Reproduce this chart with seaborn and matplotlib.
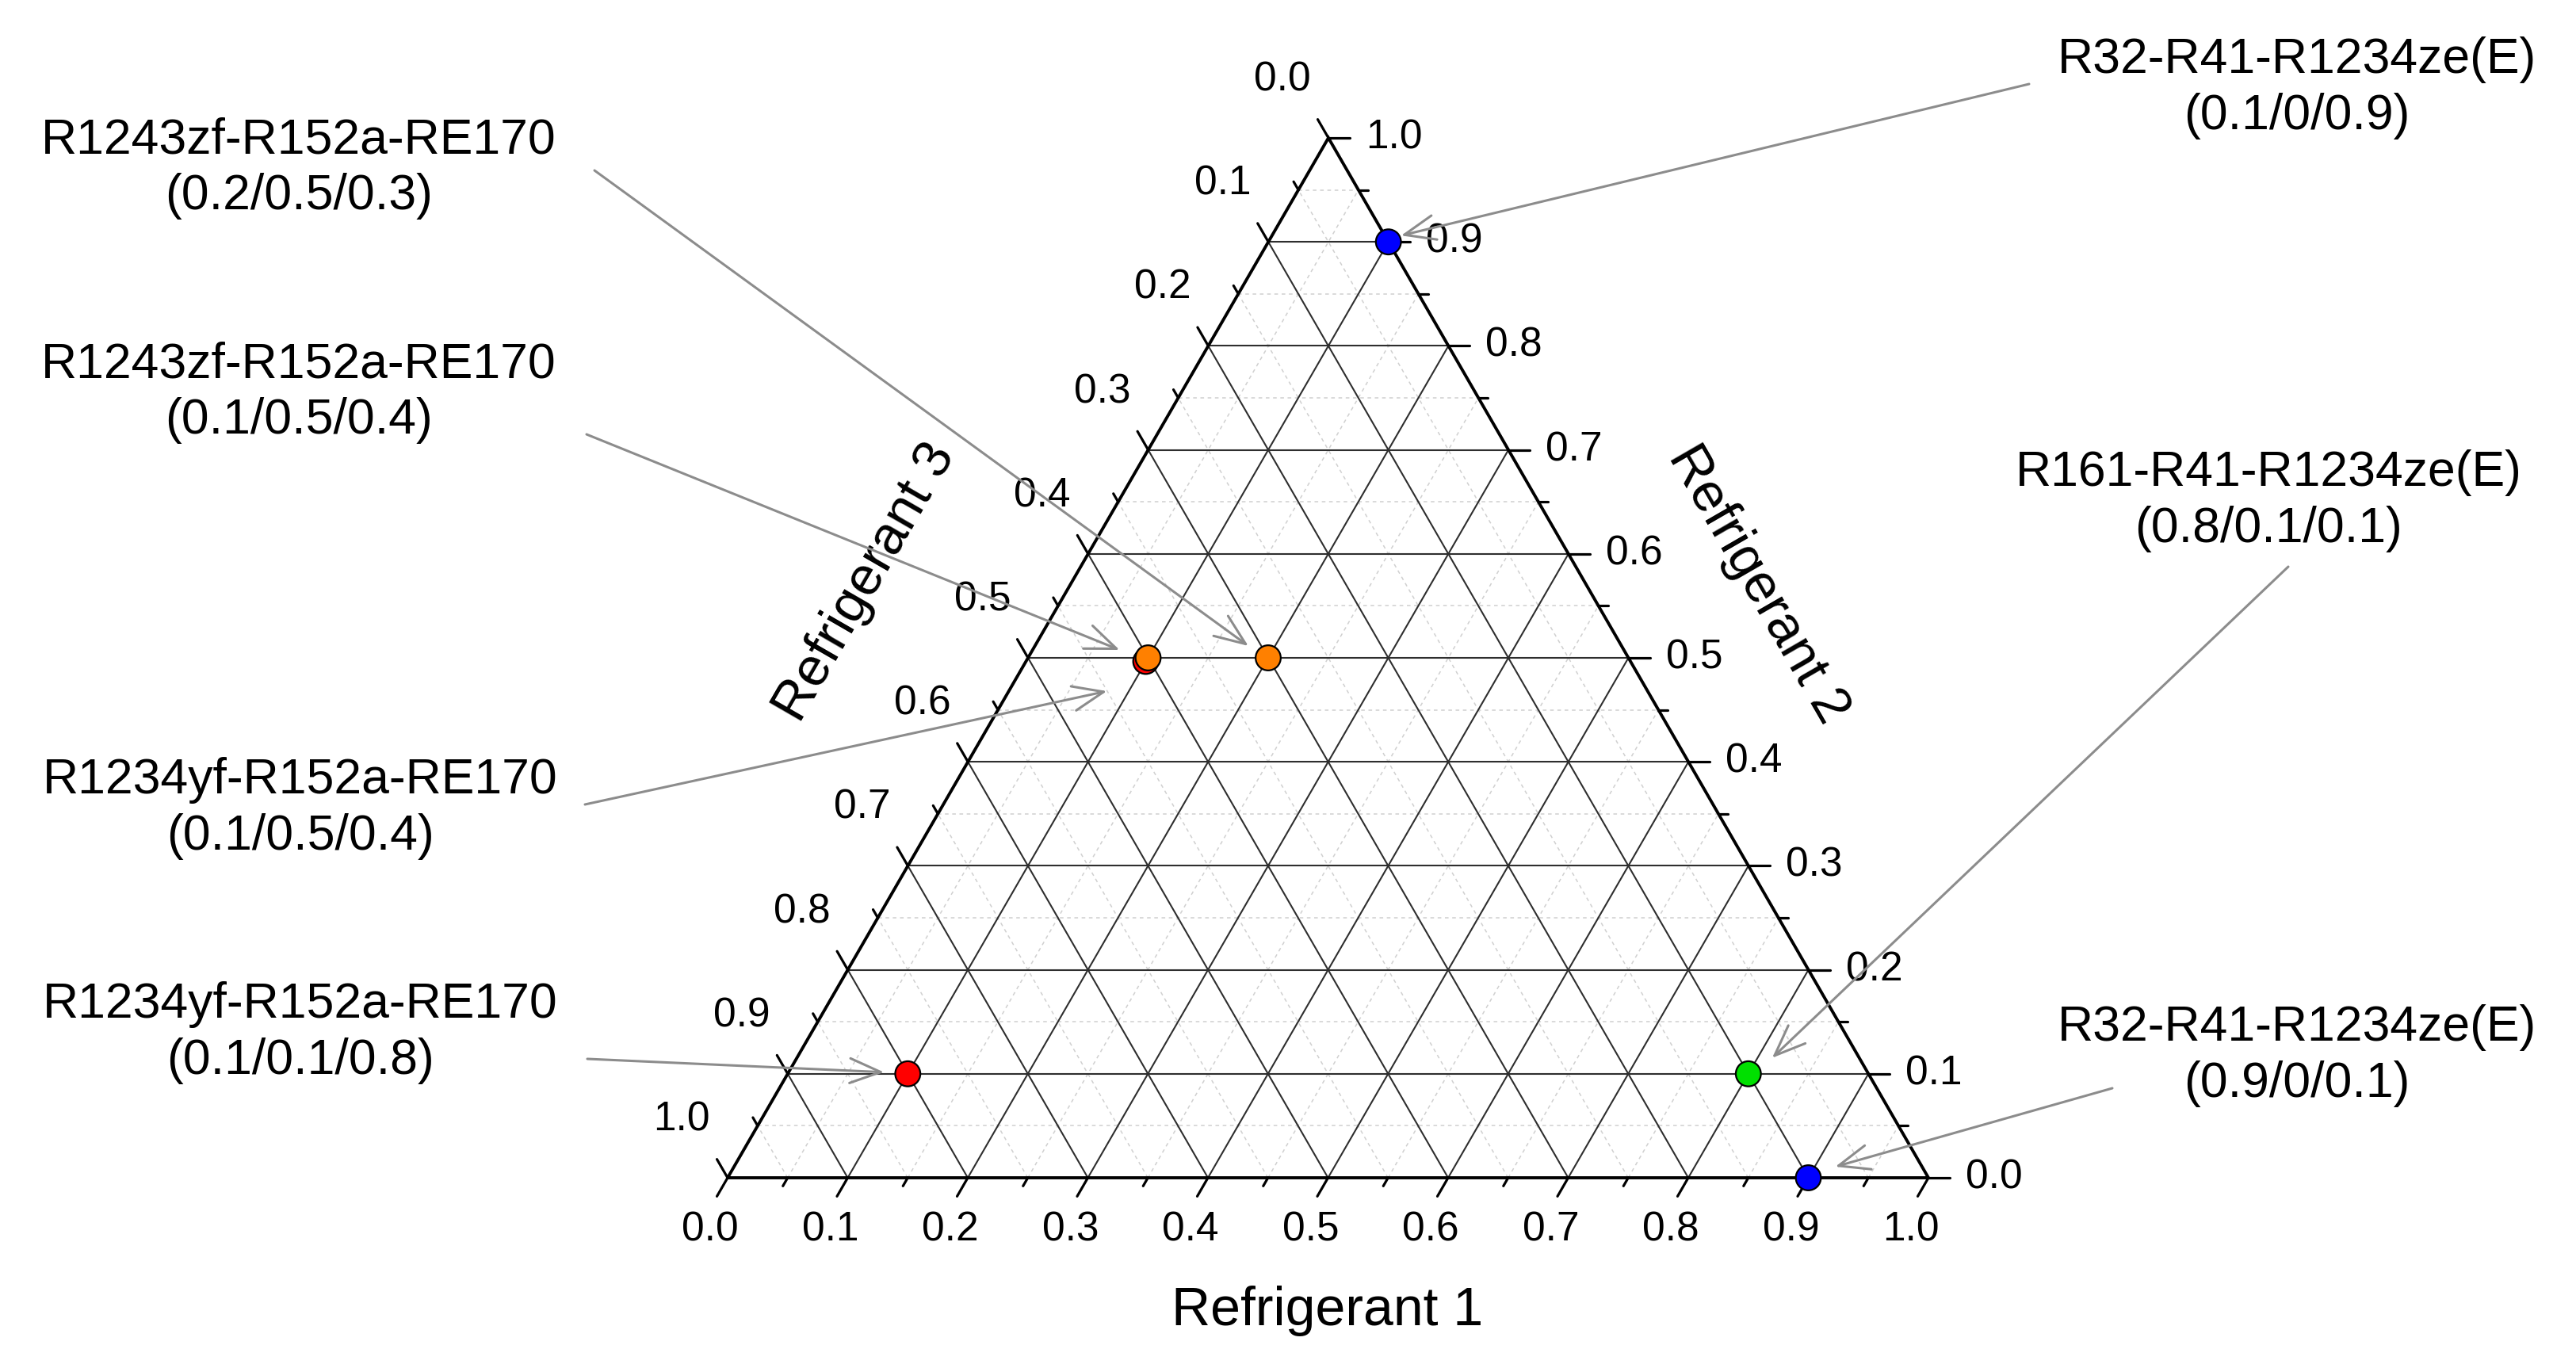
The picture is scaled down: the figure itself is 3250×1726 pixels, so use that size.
"""Ternary composition diagram of refrigerant blends."""

import matplotlib.pyplot as plt
import matplotlib.transforms as mtransforms
import numpy as np
import pandas as pd
import seaborn as sns

# blend data
blend_names = [
    "R1234yf-R152a-RE170",
    "R1243zf-R152a-RE170",
    "R1243zf-R152a-RE170",
    "R1234yf-R152a-RE170",
    "R32-R41-R1234ze(E)",
    "R161-R41-R1234ze(E)",
    "R32-R41-R1234ze(E)",
]
blend_labels = [
    "(0.1/0.5/0.4)",
    "(0.1/0.5/0.4)",
    "(0.2/0.5/0.3)",
    "(0.1/0.1/0.8)",
    "(0.1/0/0.9)",
    "(0.8/0.1/0.1)",
    "(0.9/0/0.1)",
]
refrigerant_1 = [0.1, 0.1, 0.2, 0.1, 0.1, 0.8, 0.9]
refrigerant_2 = [0.5, 0.5, 0.5, 0.1, 0.9, 0.1, 0.0]
refrigerant_3 = [0.4, 0.4, 0.3, 0.8, 0.0, 0.1, 0.1]
marker_colours = ["red", "orange", "orange", "red", "blue", "green", "blue"]

tick_values = np.round(np.arange(0, 1.01, 0.1), 2)
tick_labels = [f"{v:.1f}" for v in tick_values]
axis_titles = ["Refrigerant 1", "Refrigerant 2", "Refrigerant 3"]

# layout (pixels)
W, H = 3250, 1726
BL = np.array([918.0, 1486.0])
BR = np.array([2433.0, 1486.0])
APEX = np.array([1676.0, 174.0])

palette = {"red": "#ff0000", "orange": "#ff8000", "green": "#00e000", "blue": "#0000ff"}


def tern(r1, r2, r3):
    r1, r2, r3 = np.asarray(r1), np.asarray(r2), np.asarray(r3)
    x = r1 * BR[0] + r2 * APEX[0] + r3 * BL[0]
    y = r1 * BR[1] + r2 * APEX[1] + r3 * BL[1]
    return x, y


sns.set_theme(style="white")
plt.rcParams["font.family"] = ["Liberation Sans", "DejaVu Sans"]
plt.rcParams["text.color"] = "black"

fig = plt.figure(figsize=(W / 100, H / 100), dpi=100)
ax = fig.add_axes([0, 0, 1, 1])
ax.set_xlim(0, W)
ax.set_ylim(H, 0)
ax.axis("off")

# grid lines
for v in np.round(np.arange(0.05, 1.0, 0.05), 2):
    major = abs(round(v * 10) - v * 10) < 1e-6
    style = dict(color="#2e2e2e", lw=1.5, zorder=2) if major else \
        dict(color="#d0d0d0", lw=1.1, ls=(0, (3, 3)), zorder=1)
    segs = [
        ((0, v, 1 - v), (1 - v, v, 0)),   # constant refrigerant 2
        ((v, 0, 1 - v), (v, 1 - v, 0)),   # constant refrigerant 1
        ((1 - v, 0, v), (0, 1 - v, v)),   # constant refrigerant 3
    ]
    for a, b in segs:
        xa, ya = tern(*a)
        xb, yb = tern(*b)
        ax.plot([xa, xb], [ya, yb], **style)

# triangle frame
frame = np.array([BL, BR, APEX, BL])
ax.plot(frame[:, 0], frame[:, 1], color="black", lw=2.8, zorder=3, solid_joinstyle="miter")

# ticks and tick labels
c60, s60 = 0.5, np.sqrt(3) / 2
for v in np.round(np.arange(0, 1.0001, 0.05), 2):
    major = abs(round(v * 10) - v * 10) < 1e-6
    length = 27 if major else 12
    # bottom axis (refrigerant 1)
    x0, y0 = tern(v, 0, 1 - v)
    ax.plot([x0, x0 - c60 * length], [y0, y0 + s60 * length], color="black", lw=2.3, zorder=3)
    # right axis (refrigerant 2)
    x1, y1 = tern(1 - v, v, 0)
    ax.plot([x1, x1 + length], [y1, y1], color="black", lw=2.3, zorder=3)
    # left axis (refrigerant 3)
    x2, y2 = tern(0, 1 - v, v)
    ax.plot([x2, x2 - c60 * length], [y2, y2 - s60 * length], color="black", lw=2.3, zorder=3)

for v, lab in zip(tick_values, tick_labels):
    x0, y0 = tern(v, 0, 1 - v)
    ax.text(x0 - 22, y0 + 66, lab, fontsize=37, ha="center", va="center")
    x1, y1 = tern(1 - v, v, 0)
    ax.text(x1 + 47, y1, lab, fontsize=37, ha="left", va="center")
    x2, y2 = tern(0, 1 - v, v)
    ax.text(x2 - 22, y2 - 73, lab, fontsize=37, ha="right", va="center")

ax.text(1675, 1654, axis_titles[0], fontsize=49, ha="center", va="center")
ax.text(2218, 737, axis_titles[1], fontsize=49, ha="center", va="center", rotation=-60,
        rotation_mode="anchor")
ax.text(1092, 735, axis_titles[2], fontsize=49, ha="center", va="center", rotation=60,
        rotation_mode="anchor")

# data points
df = pd.DataFrame({
    "name": blend_names,
    "label": blend_labels,
    "r1": refrigerant_1,
    "r2": refrigerant_2,
    "r3": refrigerant_3,
    "colour": marker_colours,
})
df["x"], df["y"] = tern(df["r1"], df["r2"], df["r3"])

# the first blend sits under the orange one, drawn a touch lower-left as in the source
sns.scatterplot(data=df.iloc[:1], x="x", y="y", hue="colour", palette=palette, s=520,
                edgecolor="black", linewidth=1.6, legend=False, ax=ax, zorder=5)
nudge = mtransforms.ScaledTranslation(-4 / 100, -4 / 100, fig.dpi_scale_trans)
ax.collections[-1].set_offset_transform(ax.transData + nudge)
sns.scatterplot(data=df.iloc[1:], x="x", y="y", hue="colour", palette=palette, s=520,
                edgecolor="black", linewidth=1.6, legend=False, ax=ax, zorder=6)
ax.set_xlabel("")
ax.set_ylabel("")

# annotations: text centre, arrow start, arrow tip offset from the marker
notes = [
    (0, (379, 1020), (738, 1015), (-52, 42)),
    (1, (377, 495), (740, 548), (-36, -10)),
    (2, (377, 212), (750, 215), (-25, -15)),
    (3, (379, 1303), (741, 1336), (-30, -2)),
    (4, (2898, 111), (2560, 106), (16, -8)),
    (5, (2862, 632), (2887, 715), (30, -20)),
    (6, (2898, 1332), (2665, 1373), (34, -14)),
]
for idx, text_xy, start, off in notes:
    row = df.iloc[idx]
    ax.text(*text_xy, f"{row['name']}\n{row['label']}", fontsize=45, ha="center",
            va="center", multialignment="center", linespacing=1.25)
    tip = (row["x"] + off[0], row["y"] + off[1])
    ax.annotate("", xy=tip, xytext=start,
                arrowprops=dict(arrowstyle="->,head_length=0.7,head_width=0.28",
                                color="#8c8c8c", lw=2.2, shrinkA=0, shrinkB=0,
                                mutation_scale=40),
                zorder=4)

fig.savefig("out.png", dpi=100)
plt.close(fig)
